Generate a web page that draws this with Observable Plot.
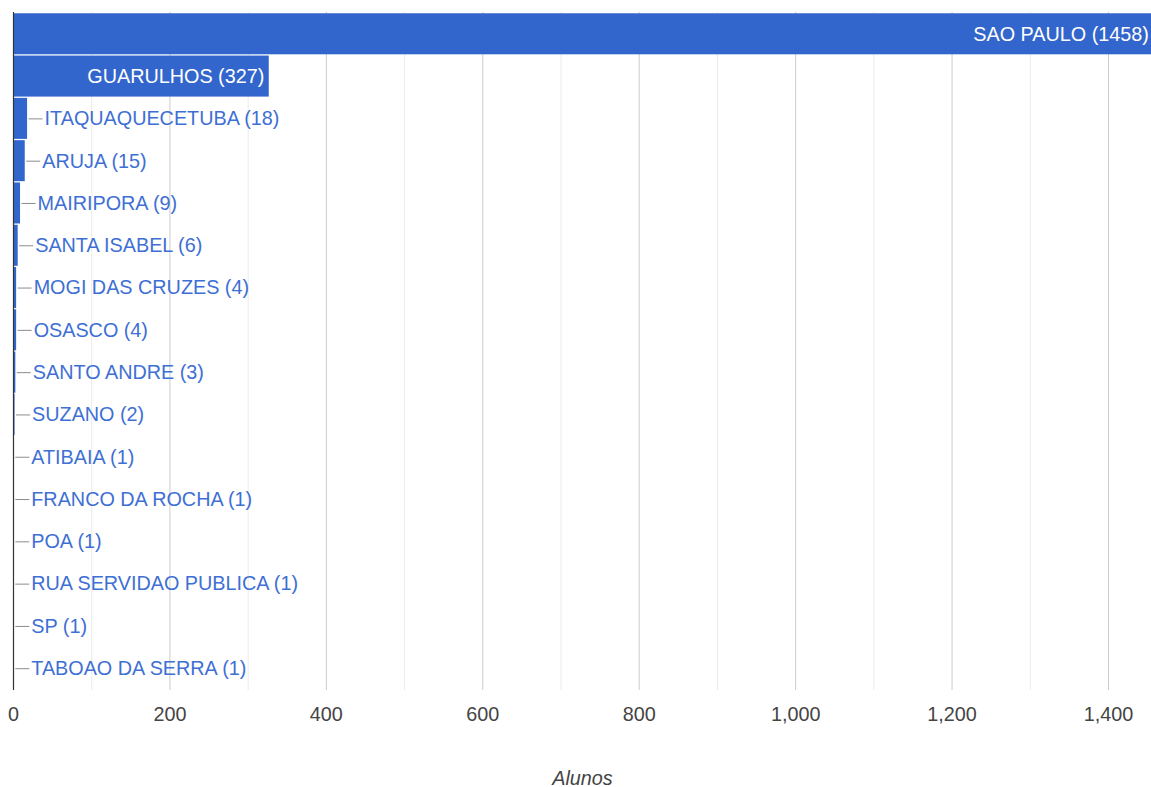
<!DOCTYPE html>
<html>
<head>
<meta charset="utf-8">
<script src="https://cdn.jsdelivr.net/npm/d3@7"></script>
<script src="https://cdn.jsdelivr.net/npm/@observablehq/plot@0.6"></script>
<style>
  html, body { margin: 0; padding: 0; background: #fff; }
  #chart svg { display: block; }
  g[aria-label="x-axis label"] text { font-style: italic; }
</style>
</head>
<body>
<div id="chart"></div>
<script>
const categories = [
  "SAO PAULO", "GUARULHOS", "ITAQUAQUECETUBA", "ARUJA", "MAIRIPORA",
  "SANTA ISABEL", "MOGI DAS CRUZES", "OSASCO", "SANTO ANDRE", "SUZANO",
  "ATIBAIA", "FRANCO DA ROCHA", "POA", "RUA SERVIDAO PUBLICA", "SP",
  "TABOAO DA SERRA"
];
const values = [1458, 327, 18, 15, 9, 6, 4, 4, 3, 2, 1, 1, 1, 1, 1, 1];
const majorTicks = [0, 200, 400, 600, 800, 1000, 1200, 1400];
const minorTicks = [100, 300, 500, 700, 900, 1100, 1300];
const xLabel = "Alunos";

const data = categories.map((c, i) => ({
  name: c,
  value: values[i],
  label: `${c} (${values[i]})`
}));
const inside = data.filter(d => d.value > 100);
const outside = data.filter(d => d.value <= 100);

const leader = {
  draw(context) {
    context.moveTo(0, 0);
    context.lineTo(14, 0);
  }
};

const chart = Plot.plot({
  width: 1151,
  height: 787,
  marginLeft: 13,
  marginRight: 0,
  marginTop: 12,
  marginBottom: 97,
  style: { fontFamily: "'Liberation Sans', Arial, sans-serif", fontSize: "19.8px", background: "#fff" },
  x: { domain: [0, 1455] },
  y: { domain: categories, padding: 0.03, round: false, axis: null },
  marks: [
    Plot.ruleX(minorTicks, { stroke: "#ebebeb", strokeWidth: 1 }),
    Plot.ruleX(majorTicks.filter(t => t !== 0), { stroke: "#cccccc", strokeWidth: 1 }),
    Plot.barX(data, { x: "value", y: "name", fill: "#3366cc" }),
    Plot.dot(outside, { x: "value", y: "name", symbol: leader, stroke: "#8c8c8c", strokeWidth: 1, fill: "none", dx: 1 }),
    Plot.text(inside, { x: "value", y: "name", text: "label", textAnchor: "end", dx: -5, fill: "#ffffff" }),
    Plot.text(outside, { x: "value", y: "name", text: "label", textAnchor: "start", dx: 17, fill: "#3e6fd4" }),
    Plot.ruleX([0], { stroke: "#333333", strokeWidth: 1.2 }),
    Plot.axisX({
      ticks: majorTicks,
      tickSize: 0,
      tickPadding: 16,
      tickFormat: d3.format(","),
      fill: "#444444",
      label: xLabel,
      labelAnchor: "center",
      labelArrow: "none",
      labelOffset: 94
    })
  ]
});
document.getElementById("chart").appendChild(chart);
</script>
</body>
</html>
